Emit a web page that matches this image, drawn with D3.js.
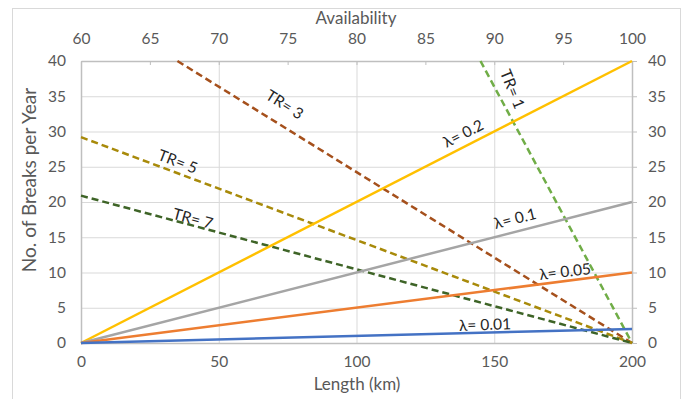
<!DOCTYPE html>
<html>
<head>
<meta charset="utf-8">
<script src="https://cdn.jsdelivr.net/npm/d3@7"></script>
<style>
  html, body { margin: 0; padding: 0; background: #fff; }
  svg { display: block; font-family: Lato, "Open Sans", sans-serif; }
</style>
</head>
<body>
<svg id="chart" width="685" height="399"></svg>
<script>
// Tick values
const lengthTicks = [0, 50, 100, 150, 200];
const availabilityTicks = [60, 65, 70, 75, 80, 85, 90, 95, 100];
const breakTicks = [0, 5, 10, 15, 20, 25, 30, 35, 40];

// Breaks per year vs. length (km), one line per failure rate λ
const lambdaNames = ["λ= 0.2", "λ= 0.1", "λ= 0.05", "λ= 0.01"];
const lambdaLengths = [0, 200];
const lambdaBreaks = [
  [0, 40],
  [0, 20],
  [0, 10],
  [0, 2]
];

// Breaks per year vs. availability (%), one line per repair time TR
const trNames = ["TR= 1", "TR= 3", "TR= 5", "TR= 7"];
const trAvailability = [
  [89, 100],
  [67, 100],
  [60, 100],
  [60, 100]
];
const trBreaks = [
  [40, 0],
  [40, 0],
  [29.2, 0],
  [20.9, 0]
];

const lambdaColors = ["#FFC000", "#A5A5A5", "#ED7D31", "#4472C4"];
const trColors = ["#70AD47", "#A5501C", "#A88A0A", "#3E6427"];

const svg = d3.select("#chart");
const m = { left: 81, right: 632, top: 61, bottom: 343 };

// Outer chart frame
svg.append("rect")
  .attr("x", 12.5).attr("y", 8.5)
  .attr("width", 668).attr("height", 400)
  .attr("fill", "#fff").attr("stroke", "#d9d9d9");

const x = d3.scaleLinear().domain([0, 200]).range([m.left, m.right]);
const xTop = d3.scaleLinear().domain([60, 100]).range([m.left, m.right]);
const y = d3.scaleLinear().domain([0, 40]).range([m.bottom, m.top]);

const gridColor = "#d9d9d9";
const axisColor = "#bfbfbf";
const textColor = "#595959";

// Horizontal gridlines
svg.append("g")
  .selectAll("line")
  .data(breakTicks)
  .join("line")
  .attr("x1", m.left).attr("x2", m.right)
  .attr("y1", d => y(d) + 0.5).attr("y2", d => y(d) + 0.5)
  .attr("stroke", gridColor).attr("stroke-width", 1);

// Vertical gridlines at length ticks
svg.append("g")
  .selectAll("line")
  .data(lengthTicks)
  .join("line")
  .attr("x1", d => x(d) + 0.5).attr("x2", d => x(d) + 0.5)
  .attr("y1", m.top).attr("y2", m.bottom)
  .attr("stroke", gridColor).attr("stroke-width", 1);

function styleAxis(g) {
  g.selectAll("text")
    .attr("fill", textColor)
    .style("font-size", "15.5px")
    .style("font-family", "Lato, 'Open Sans', sans-serif");
  g.selectAll("line").attr("stroke", axisColor);
  g.select(".domain").attr("stroke", axisColor);
}

// Bottom axis (Length)
const gBottom = svg.append("g")
  .attr("transform", `translate(0,${m.bottom})`)
  .call(d3.axisBottom(x).tickValues(lengthTicks).tickSize(0).tickPadding(13));
styleAxis(gBottom);
gBottom.select(".domain").remove();

// Left axis (Breaks)
const gLeft = svg.append("g")
  .attr("transform", `translate(${m.left},0)`)
  .call(d3.axisLeft(y).tickValues(breakTicks).tickSize(0).tickPadding(15));
styleAxis(gLeft);
gLeft.select(".domain").attr("stroke", axisColor).attr("stroke-width", 1.5);

// Right axis (Breaks)
const gRight = svg.append("g")
  .attr("transform", `translate(${m.right},0)`)
  .call(d3.axisRight(y).tickValues(breakTicks).tickSizeInner(5).tickSizeOuter(0).tickPadding(11));
styleAxis(gRight);
gRight.select(".domain").attr("stroke-width", 1.5);

// Top axis (Availability)
const gTop = svg.append("g")
  .attr("transform", `translate(0,${m.top})`)
  .call(d3.axisTop(xTop).tickValues(availabilityTicks).tickSizeInner(-4).tickSizeOuter(0).tickPadding(17));
styleAxis(gTop);
gTop.select(".domain").attr("stroke-width", 1.5);

// Bottom baseline
svg.append("line")
  .attr("x1", m.left).attr("x2", m.right)
  .attr("y1", m.bottom + 0.5).attr("y2", m.bottom + 0.5)
  .attr("stroke", axisColor).attr("stroke-width", 1.5);

// Axis titles
svg.append("text")
  .attr("x", 356).attr("y", 24)
  .attr("text-anchor", "middle")
  .attr("fill", textColor).style("font-size", "17px")
  .text("Availability");

svg.append("text")
  .attr("x", 357).attr("y", 390)
  .attr("text-anchor", "middle")
  .attr("fill", textColor).style("font-size", "17px")
  .text("Length (km)");

svg.append("text")
  .attr("transform", "translate(36,180) rotate(-90)")
  .attr("text-anchor", "middle")
  .attr("fill", textColor).style("font-size", "19px")
  .text("No. of Breaks per Year");

// Plot clip
svg.append("clipPath").attr("id", "plot-clip")
  .append("rect")
  .attr("x", m.left - 2).attr("y", m.top - 2)
  .attr("width", m.right - m.left + 4).attr("height", m.bottom - m.top + 4);

const plot = svg.append("g").attr("clip-path", "url(#plot-clip)");

// Repair-time lines (dashed, availability scale)
trNames.forEach((name, i) => {
  const pts = trAvailability[i].map((a, j) => [a, trBreaks[i][j]]);
  plot.append("path")
    .datum(pts)
    .attr("fill", "none")
    .attr("stroke", trColors[i])
    .attr("stroke-width", 2.5)
    .attr("stroke-dasharray", "7,4")
    .attr("d", d3.line().x(d => xTop(d[0])).y(d => y(d[1])));
});

// Failure-rate lines (solid, length scale)
lambdaNames.forEach((name, i) => {
  const pts = lambdaLengths.map((l, j) => [l, lambdaBreaks[i][j]]);
  plot.append("path")
    .datum(pts)
    .attr("fill", "none")
    .attr("stroke", lambdaColors[i])
    .attr("stroke-width", 2.5)
    .attr("d", d3.line().x(d => x(d[0])).y(d => y(d[1])));
});

// Inline line labels
const labelSpecs = [
  { text: trNames[1], x: 285, y: 104, angle: 32 },
  { text: trNames[2], x: 178, y: 161, angle: 21 },
  { text: trNames[3], x: 193, y: 218, angle: 15 },
  { text: trNames[0], x: 513, y: 89, angle: 68 },
  { text: lambdaNames[0], x: 463, y: 133, angle: -27 },
  { text: lambdaNames[1], x: 515, y: 218, angle: -14 },
  { text: lambdaNames[2], x: 565, y: 271, angle: -7 },
  { text: lambdaNames[3], x: 485, y: 324, angle: -2 }
];

svg.append("g")
  .selectAll("text")
  .data(labelSpecs)
  .join("text")
  .attr("transform", d => `translate(${d.x},${d.y}) rotate(${d.angle})`)
  .attr("text-anchor", "middle")
  .attr("dominant-baseline", "central")
  .attr("fill", "#262626")
  .style("font-size", "15.5px")
  .text(d => d.text);
</script>
</body>
</html>
